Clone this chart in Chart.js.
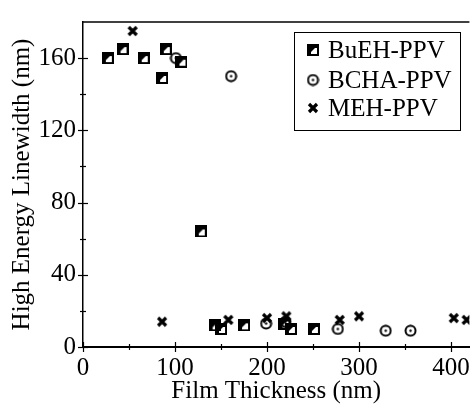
<!DOCTYPE html>
<html><head><meta charset="utf-8">
<script src="https://cdn.jsdelivr.net/npm/chart.js@4"></script>
<style>
html,body{margin:0;padding:0;background:#fff;overflow:hidden;width:472px;height:406px}
#wrap{position:relative;width:476px;height:406px}
canvas{display:block}
</style></head>
<body><div id="wrap"><canvas id="c" width="476" height="406"></canvas></div>
<script>
// ---- data ----
const seriesNames = ['BuEH-PPV', 'BCHA-PPV', 'MEH-PPV'];
const buehThickness = [27, 43, 66, 86, 90, 107, 128, 143, 150, 175, 219, 226, 251];
const buehWidth     = [160, 165, 160, 149, 165, 158, 64, 12, 10, 12, 13, 10, 10];
const bchaThickness = [101, 161, 199, 220, 277, 329, 356];
const bchaWidth     = [160, 150, 13, 14, 10, 9, 9];
const mehThickness  = [54, 86, 158, 200, 221, 279, 300, 403, 417];
const mehWidth      = [175, 14, 15, 16, 17, 15, 17, 16, 15];
const xTickLabels = [0, 100, 200, 300, 400];
const yTickLabels = [0, 40, 80, 120, 160];
const xAxisTitle = 'Film Thickness (nm)';
const yAxisTitle = 'High Energy Linewidth (nm)';

// ---- markers ----
function mk(w, h, draw) { const c = document.createElement('canvas'); c.width = w; c.height = h; draw(c.getContext('2d')); return c; }
const squareMarker = mk(12, 12, g => {
  g.fillStyle = '#000';
  g.beginPath(); g.moveTo(1, 1); g.lineTo(11, 1); g.lineTo(1, 11); g.closePath(); g.fill();
  g.fillRect(1, 1, 10, 3); g.fillRect(1, 1, 3, 10);
  g.strokeStyle = '#000'; g.lineWidth = 2; g.strokeRect(1, 1, 10, 10);
});
const circleMarker = mk(13, 13, g => {
  g.strokeStyle = '#000'; g.lineWidth = 2;
  g.beginPath(); g.arc(6.5, 6.5, 5, 0, Math.PI * 2); g.stroke();
  g.fillStyle = '#000'; g.beginPath(); g.arc(6.5, 6.5, 1.2, 0, Math.PI * 2); g.fill();
});
const crossMarker = mk(12, 12, g => {
  g.strokeStyle = '#000'; g.lineWidth = 3.2; g.lineCap = 'butt';
  g.beginPath(); g.moveTo(2, 2); g.lineTo(10, 10); g.moveTo(10, 2); g.lineTo(2, 10); g.stroke();
});
const markers = [squareMarker, circleMarker, crossMarker];

const toPts = (xs, ys) => xs.map((x, i) => ({ x: x, y: ys[i] }));
const FONT = '"Liberation Serif", "Times New Roman", serif';
const FS = 25;

const framePlugin = {
  id: 'frame',
  afterDraw(chart) {
    const { ctx, chartArea: a, scales: { x, y } } = chart;
    ctx.save();
    ctx.strokeStyle = '#000';
    ctx.lineWidth = 1.5;
    ctx.beginPath(); ctx.moveTo(a.left, a.top); ctx.lineTo(a.right, a.top); ctx.stroke();
    ctx.lineWidth = 1.2;
    for (let v = 0; v <= 400; v += 50) {
      const p = Math.round(x.getPixelForValue(v)) + 0.5, L = v % 100 === 0 ? 5 : 3;
      ctx.beginPath(); ctx.moveTo(p, a.bottom - L); ctx.lineTo(p, a.bottom + L); ctx.stroke();
    }
    for (let v = 0; v <= 160; v += 20) {
      const p = Math.round(y.getPixelForValue(v)) + 0.5, L = v % 40 === 0 ? 5 : 3;
      ctx.beginPath(); ctx.moveTo(a.left - L, p); ctx.lineTo(a.left + L, p); ctx.stroke();
    }
    // legend
    const bx = 294.5, by = 32.5, bw = 166, bh = 98;
    ctx.lineWidth = 1;
    ctx.strokeRect(bx, by, bw, bh);
    ctx.font = FS + 'px ' + FONT;
    ctx.fillStyle = '#000';
    ctx.textBaseline = 'middle';
    ctx.textAlign = 'left';
    const rows = [50, 80, 108];
    chart.data.datasets.forEach((ds, i) => {
      const m = ds.pointStyle;
      ctx.drawImage(m, 313 - m.width / 2, rows[i] - m.height / 2);
      ctx.fillText(ds.label, 328, rows[i] + 1);
    });
    ctx.restore();
  }
};

new Chart(document.getElementById('c'), {
  type: 'scatter',
  data: {
    datasets: [
      { label: seriesNames[0], data: toPts(buehThickness, buehWidth), pointStyle: markers[0], order: 3 },
      { label: seriesNames[1], data: toPts(bchaThickness, bchaWidth), pointStyle: markers[1], order: 2 },
      { label: seriesNames[2], data: toPts(mehThickness, mehWidth), pointStyle: markers[2], order: 1 }
    ]
  },
  options: {
    responsive: false,
    animation: false,
    devicePixelRatio: 1,
    layout: { padding: { top: 11, left: 0, right: 1, bottom: 0 } },
    plugins: { legend: { display: false }, tooltip: { enabled: false } },
    scales: {
      x: {
        type: 'linear', min: 0, max: 420,
        border: { display: true, color: '#000', width: 2 },
        grid: { display: false, drawTicks: false },
        afterBuildTicks: s => { s.ticks = xTickLabels.map(v => ({ value: v })); },
        ticks: {
          autoSkip: false, maxRotation: 0, padding: 6, color: '#000',
          font: { family: FONT, size: FS },
          callback: v => String(v)
        },
        title: { display: true, text: xAxisTitle, color: '#000', font: { family: FONT, size: FS }, padding: { top: 0, bottom: 0 } },
        afterFit: s => { s.height = 59; }
      },
      y: {
        type: 'linear', min: 0, max: 180,
        border: { display: true, color: '#000', width: 1.5 },
        grid: { display: false, drawTicks: false },
        afterBuildTicks: s => { s.ticks = yTickLabels.map(v => ({ value: v })); },
        ticks: {
          autoSkip: false, padding: 7, color: '#000',
          font: { family: FONT, size: FS },
          callback: v => String(v)
        },
        title: { display: true, text: yAxisTitle, color: '#000', font: { family: FONT, size: FS }, padding: { top: 7, bottom: 0 } },
        afterFit: s => { s.width = 83; }
      }
    }
  },
  plugins: [framePlugin]
});
</script>
</body></html>
